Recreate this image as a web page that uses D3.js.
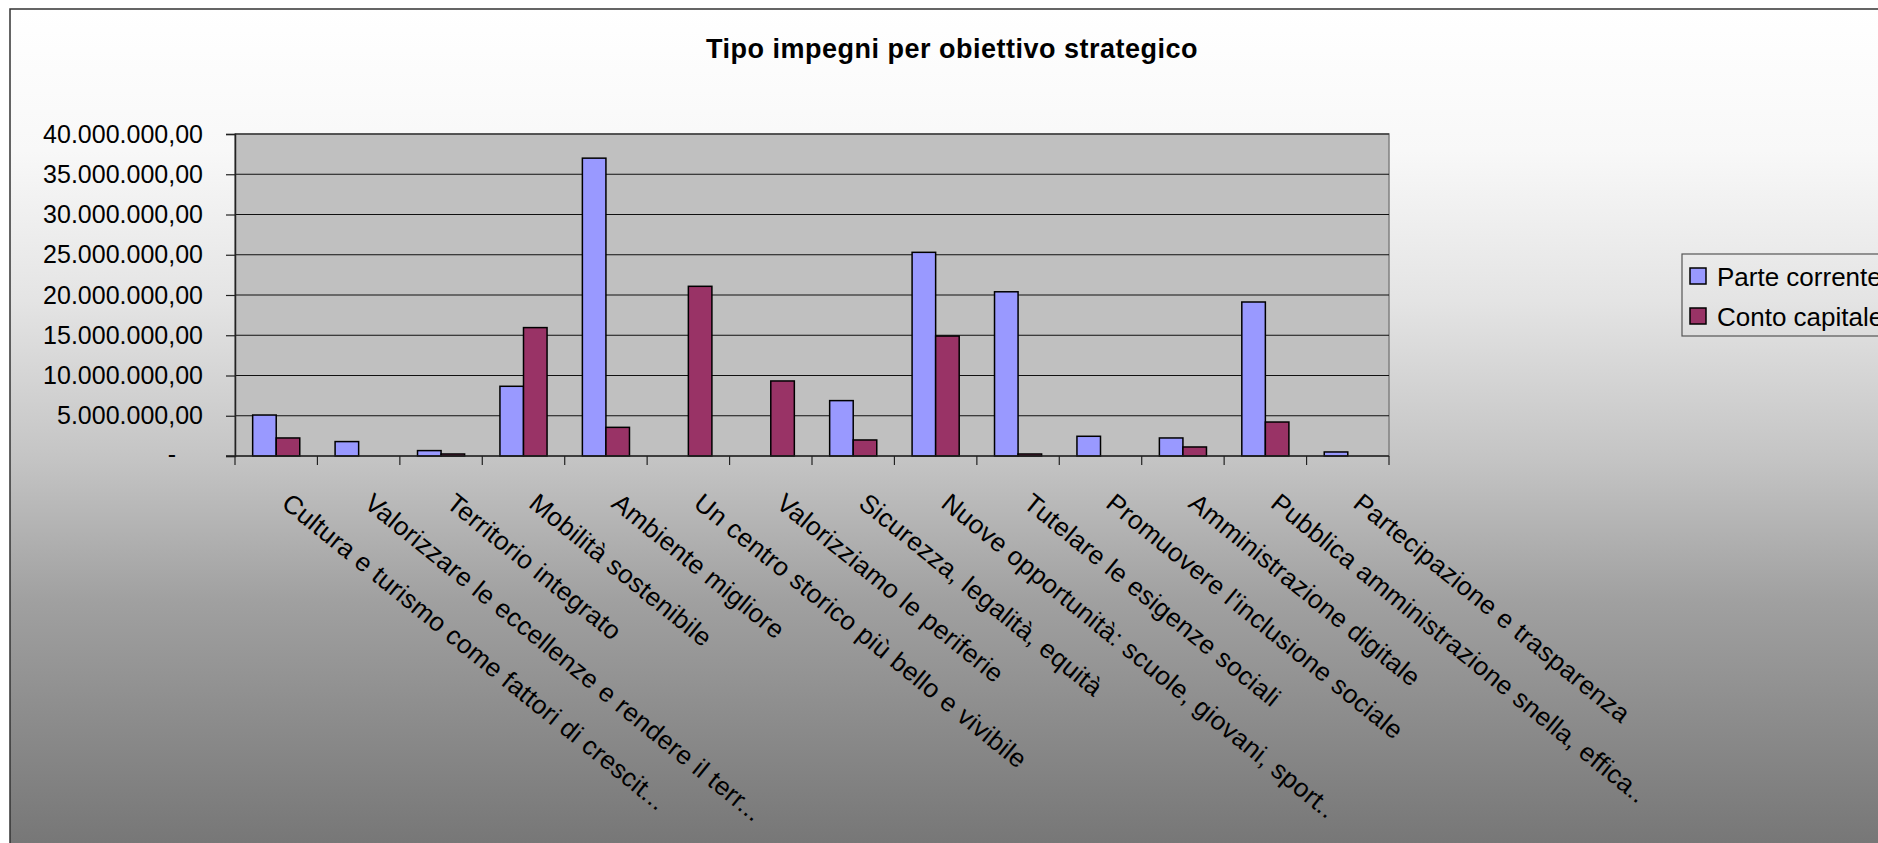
<!DOCTYPE html>
<html>
<head>
<meta charset="utf-8">
<script src="https://cdn.jsdelivr.net/npm/d3@7/dist/d3.min.js"></script>
<style>
  html, body { margin: 0; padding: 0; overflow: hidden; background: #fff; }
  svg { display: block; font-family: "Liberation Sans", Arial, sans-serif; }
</style>
</head>
<body>
<div id="chart"></div>
<script>
// ── Data ────────────────────────────────────────────────────────────────
const CATEGORIES = [
  'Cultura e turismo come fattori di crescit...',
  'Valorizzare le eccellenze e rendere il terr...',
  'Territorio integrato',
  'Mobilità sostenibile',
  'Ambiente migliore',
  'Un centro storico più bello e vivibile',
  'Valorizziamo le periferie',
  'Sicurezza, legalità, equità',
  'Nuove opportunità: scuole, giovani, sport..',
  'Tutelare le esigenze sociali',
  "Promuovere l'inclusione sociale",
  'Amministrazione digitale',
  'Pubblica amministrazione snella, effica..',
  'Partecipazione e trasparenza',
];

const PARTE_CORRENTE = [
  5090000, 1790000, 670000, 8660000, 37000000, 0, 0,
  6880000, 25300000, 20400000, 2450000, 2240000, 19130000, 500000,
];

const CONTO_CAPITALE = [
  2240000, 0, 250000, 15950000, 3560000, 21080000, 9320000,
  1990000, 14900000, 250000, 0, 1120000, 4220000, 0,
];

const SERIES = [
  { name: 'Parte corrente', color: '#9999FF', values: PARTE_CORRENTE },
  { name: 'Conto capitale', color: '#993366', values: CONTO_CAPITALE },
];

const Y_TICKS = [0, 5e6, 10e6, 15e6, 20e6, 25e6, 30e6, 35e6, 40e6];

const TITLE = 'Tipo impegni per obiettivo strategico';

// ── Layout ──────────────────────────────────────────────────────────────
const W = 1878, H = 843;
const plot = { x0: 235, x1: 1389, y0: 134, y1: 456 };

const it = d3.formatLocale({ decimal: ',', thousands: '.', grouping: [3], currency: ['', ''] });
const fmt = it.format(',.2f');

const svg = d3.select('#chart').append('svg').attr('width', W).attr('height', H);

// chart area background gradient
const grad = svg.append('defs').append('linearGradient')
  .attr('id', 'bg').attr('gradientUnits', 'userSpaceOnUse')
  .attr('x1', 0).attr('y1', 9).attr('x2', 0).attr('y2', 843);
[[0, '#ffffff'], [0.17, '#f8f8f8'], [0.35, '#e4e4e4'], [0.54, '#c4c4c4'],
 [0.71, '#a0a0a0'], [1, '#777777']].forEach(([o, c]) =>
  grad.append('stop').attr('offset', o).attr('stop-color', c));

svg.append('rect')
  .attr('x', 10).attr('y', 9).attr('width', 1950).attr('height', 950)
  .attr('fill', 'url(#bg)').attr('stroke', '#333').attr('stroke-width', 1.5);

svg.append('text')
  .attr('x', 952).attr('y', 58)
  .attr('text-anchor', 'middle')
  .attr('font-size', '27px').attr('font-weight', 'bold')
  .attr('letter-spacing', '0.5px')
  .text(TITLE);

// ── Scales ──────────────────────────────────────────────────────────────
const x = d3.scaleBand()
  .domain(CATEGORIES)
  .range([plot.x0, plot.x1])
  .paddingInner(1.5 / 3.5)
  .paddingOuter(0.75 / 3.5);

const xs = d3.scaleBand()
  .domain(SERIES.map(s => s.name))
  .range([0, x.bandwidth()]);

const y = d3.scaleLinear().domain([0, 40e6]).range([plot.y1, plot.y0]);

// plot area
svg.append('rect')
  .attr('x', plot.x0).attr('y', plot.y0)
  .attr('width', plot.x1 - plot.x0).attr('height', plot.y1 - plot.y0)
  .attr('fill', '#c0c0c0').attr('stroke', '#808080').attr('stroke-width', 1.5);

// gridlines
svg.append('g').selectAll('line')
  .data(Y_TICKS.filter(d => d > 0))
  .join('line')
  .attr('x1', plot.x0).attr('x2', plot.x1)
  .attr('y1', d => y(d)).attr('y2', d => y(d))
  .attr('stroke', '#111').attr('stroke-width', 1);

// ── Bars ────────────────────────────────────────────────────────────────
SERIES.forEach(s => {
  svg.append('g').selectAll('rect')
    .data(CATEGORIES.map((c, i) => ({ c, v: s.values[i] })).filter(d => d.v > 0))
    .join('rect')
    .attr('x', d => x(d.c) + xs(s.name))
    .attr('y', d => y(d.v))
    .attr('width', xs.bandwidth())
    .attr('height', d => y(0) - y(d.v))
    .attr('fill', s.color)
    .attr('stroke', '#000').attr('stroke-width', 1.5);
});

// ── Axes ────────────────────────────────────────────────────────────────
const yAxis = svg.append('g')
  .attr('transform', `translate(${plot.x0},0)`)
  .call(d3.axisLeft(y).tickValues(Y_TICKS).tickSize(9).tickPadding(23)
    .tickFormat(d => d === 0 ? '-' : fmt(d)));
yAxis.select('.domain').attr('stroke', '#222').attr('stroke-width', 1.5);
yAxis.selectAll('.tick line').attr('stroke', '#222').attr('stroke-width', 1.2);
yAxis.selectAll('.tick text')
  .attr('font-size', '25px').attr('fill', '#000')
  .attr('font-family', '"Liberation Sans", Arial, sans-serif')
  .filter(d => d === 0).attr('x', -59).attr('dy', '0.25em');

// x axis line + category boundary ticks
const step = x.step();
const bounds = CATEGORIES.map(c => x(c) - (step - x.bandwidth()) / 2).concat([plot.x1]);
const xAxis = svg.append('g');
xAxis.append('line')
  .attr('x1', plot.x0 - 9).attr('x2', plot.x1)
  .attr('y1', y(0)).attr('y2', y(0))
  .attr('stroke', '#222').attr('stroke-width', 1.5);
xAxis.selectAll('.xt')
  .data(bounds)
  .join('line')
  .attr('class', 'xt')
  .attr('x1', d => d).attr('x2', d => d)
  .attr('y1', y(0)).attr('y2', y(0) + 9)
  .attr('stroke', '#222').attr('stroke-width', 1.2);

// rotated category labels
xAxis.selectAll('.xl')
  .data(CATEGORIES)
  .join('text')
  .attr('class', 'xl')
  .attr('transform', d => `translate(${x(d) + x.bandwidth() / 2 + 4},${y(0) + 50}) rotate(39)`)
  .attr('font-size', '26px')
  .attr('letter-spacing', '0.3px')
  .attr('fill', '#000')
  .text(d => d);

// ── Legend ──────────────────────────────────────────────────────────────
const leg = svg.append('g').attr('transform', 'translate(1682,254)');
leg.append('rect')
  .attr('width', 300).attr('height', 82)
  .attr('fill', 'none').attr('stroke', '#555').attr('stroke-width', 1.2);
SERIES.forEach((s, i) => {
  leg.append('rect')
    .attr('x', 8).attr('y', 14 + i * 40).attr('width', 16).attr('height', 16)
    .attr('fill', s.color).attr('stroke', '#000').attr('stroke-width', 1.5);
  leg.append('text')
    .attr('x', 35).attr('y', 32 + i * 40)
    .attr('font-size', '26px').attr('fill', '#000')
    .text(s.name);
});
</script>
</body>
</html>
